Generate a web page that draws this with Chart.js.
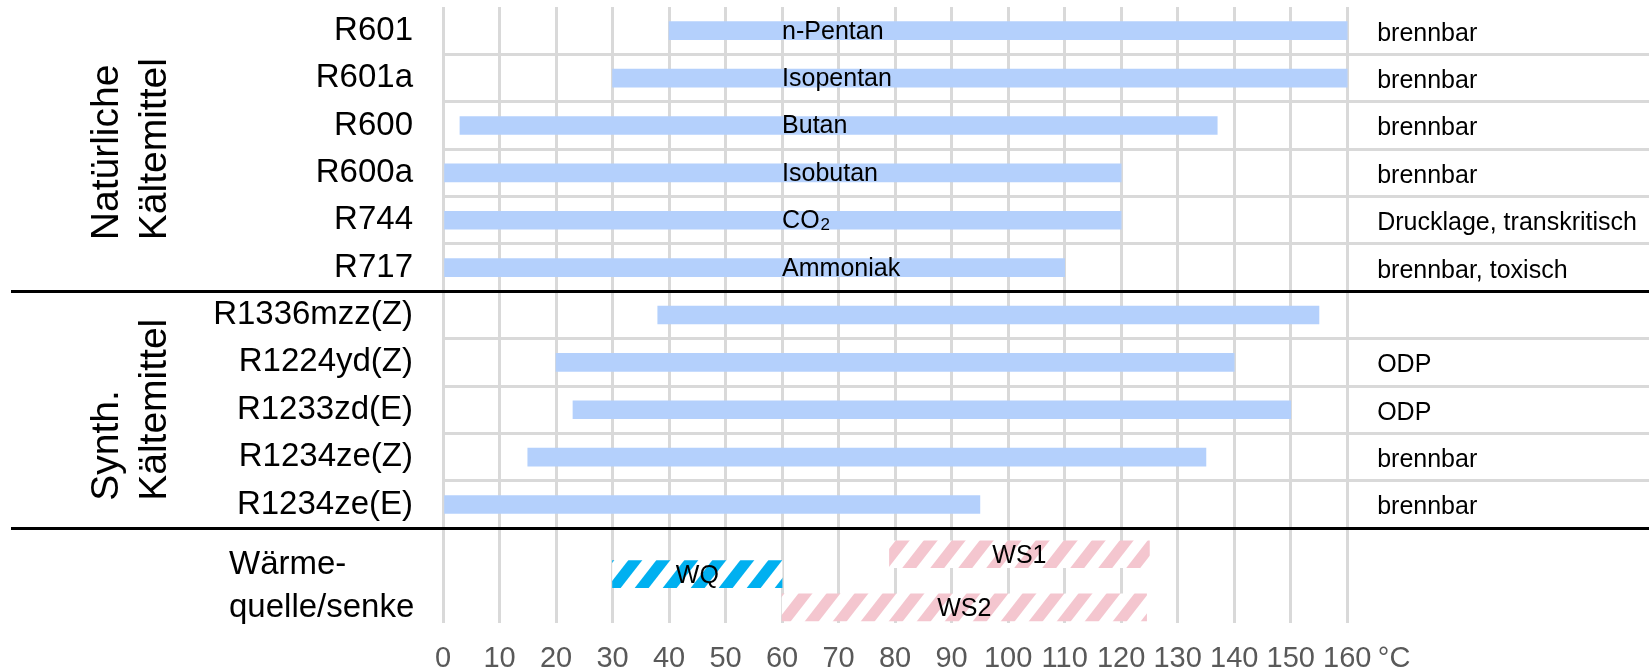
<!DOCTYPE html>
<html>
<head>
<meta charset="utf-8">
<script src="https://cdn.jsdelivr.net/npm/chart.js@4.4.1/dist/chart.umd.min.js"></script>
<style>
  html, body { margin: 0; padding: 0; background: #fff; }
</style>
</head>
<body>
<canvas id="chartjs-0" width="1649" height="672"></canvas>
<script>
"use strict"

// Kältemittel, von oben nach unten
var refrigerants = ["R601", "R601a", "R600", "R600a", "R744", "R717",
  "R1336mzz(Z)", "R1224yd(Z)", "R1233zd(E)", "R1234ze(Z)", "R1234ze(E)"];
var tempFrom = [40, 30, 3, 0, 0, 0, 38, 20, 23, 15, 0];
var tempTo = [160, 160, 137, 120, 120, 110, 155, 140, 150, 135, 95];
var substanceNames = ["n-Pentan", "Isopentan", "Butan", "Isobutan", "CO₂", "Ammoniak", "", "", "", "", ""];
var remarks = ["brennbar", "brennbar", "brennbar", "brennbar", "Drucklage, transkritisch",
  "brennbar, toxisch", "", "ODP", "ODP", "brennbar", "brennbar"];

// Wärmequelle / Wärmesenken (Zeile = Lage im unteren Block)
var sourceNames = ["WQ"];
var sourceRow = [11.47];
var sourceFrom = [30];
var sourceTo = [60];
var sinkNames = ["WS1", "WS2"];
var sinkRow = [11.05, 12.17];
var sinkFrom = [79, 60];
var sinkTo = [125, 124.5];

var xTicks = [0, 10, 20, 30, 40, 50, 60, 70, 80, 90, 100, 110, 120, 130, 140, 150, 160];
var unitLabel = "°C";
var groupNames = [["Natürliche", "Kältemittel"], ["Synth.", "Kältemittel"]];
var groupRows = [[0, 5], [6, 10]];
var heatLabel = ["Wärme-", "quelle/senke"];

var fam = '"Liberation Sans", Arial, sans-serif';
Chart.defaults.font.family = fam;

function hatch(color) {
    var c = document.createElement("canvas");
    c.width = 28; c.height = 36;
    var g = c.getContext("2d");
    g.fillStyle = "#fff";
    g.fillRect(0, 0, 28, 36);
    g.fillStyle = color;
    [-28, 0].forEach(function (dx) {
        g.beginPath();
        g.moveTo(dx, 36); g.lineTo(dx + 14, 36);
        g.lineTo(dx + 42, 0); g.lineTo(dx + 28, 0);
        g.closePath();
        g.fill();
    });
    return g.createPattern(c, "repeat");
}

var refData = refrigerants.map(function (r, i) { return { y: i, x: [tempFrom[i], tempTo[i]] }; });
var srcData = sourceNames.map(function (n, i) { return { y: sourceRow[i], x: [sourceFrom[i], sourceTo[i]] }; });
var sinkData = sinkNames.map(function (n, i) { return { y: sinkRow[i], x: [sinkFrom[i], sinkTo[i]] }; });

var extras = {
    id: "extras",
    afterDatasetsDraw: function (chart) {
        var ctx = chart.ctx;
        var xs = chart.scales.x, ys = chart.scales.y;
        var i, j;
        ctx.save();
        ctx.fillStyle = "#000";

        // Namen in den Balken
        ctx.textAlign = "left";
        ctx.textBaseline = "middle";
        for (i = 0; i < substanceNames.length; i++) {
            var name = substanceNames[i];
            if (!name) continue;
            var x = xs.getPixelForValue(60), y = ys.getPixelForValue(i) + 1;
            ctx.font = "25px " + fam;
            if (name.slice(-1) === "₂") {
                var base = name.slice(0, -1);
                ctx.fillText(base, x, y);
                var w = ctx.measureText(base).width;
                ctx.font = "17px " + fam;
                ctx.fillText("2", x + w + 1, y + 4);
            } else {
                ctx.fillText(name, x, y);
            }
        }

        // WQ / WS Beschriftung
        ctx.font = "25px " + fam;
        ctx.textAlign = "center";
        for (i = 0; i < sourceNames.length; i++) {
            ctx.fillText(sourceNames[i], xs.getPixelForValue((sourceFrom[i] + sourceTo[i]) / 2), ys.getPixelForValue(sourceRow[i]) + 2);
        }
        for (i = 0; i < sinkNames.length; i++) {
            ctx.fillText(sinkNames[i], xs.getPixelForValue((sinkFrom[i] + sinkTo[i]) / 2), ys.getPixelForValue(sinkRow[i]) + 2);
        }

        // Bemerkungen rechts
        ctx.textAlign = "left";
        for (i = 0; i < remarks.length; i++) {
            if (!remarks[i]) continue;
            ctx.fillText(remarks[i], xs.getPixelForValue(165.3), ys.getPixelForValue(i) + 3);
        }

        // Trennlinien
        ctx.strokeStyle = "#000";
        ctx.lineWidth = 3;
        [5.5, 10.5].forEach(function (v) {
            var yy = Math.round(ys.getPixelForValue(v)) + 0.5;
            ctx.beginPath();
            ctx.moveTo(11, yy);
            ctx.lineTo(chart.width, yy);
            ctx.stroke();
        });

        // Gruppenbeschriftung, gedreht
        ctx.font = "39px " + fam;
        ctx.textBaseline = "alphabetic";
        var baseX = [118, 166];
        for (i = 0; i < groupNames.length; i++) {
            var mid = ys.getPixelForValue((groupRows[i][0] + groupRows[i][1]) / 2);
            var maxW = 0;
            for (j = 0; j < groupNames[i].length; j++) maxW = Math.max(maxW, ctx.measureText(groupNames[i][j]).width);
            for (j = 0; j < groupNames[i].length; j++) {
                ctx.save();
                ctx.translate(baseX[j], mid + maxW / 2);
                ctx.rotate(-Math.PI / 2);
                ctx.fillText(groupNames[i][j], 0, 0);
                ctx.restore();
            }
        }

        // Wärmequelle/senke
        ctx.font = "33px " + fam;
        ctx.textBaseline = "middle";
        var hm = ys.getPixelForValue(11.73);
        ctx.fillText(heatLabel[0], 229, hm - 21.5);
        ctx.fillText(heatLabel[1], 229, hm + 21.5);

        ctx.restore();
    }
};

var ctx0 = document.getElementById("chartjs-0");
var myChart = new Chart(ctx0, {
    type: "bar",
    data: {
        datasets: [
            { label: "Kältemittel", data: refData, backgroundColor: "#b4d0fc", barThickness: 18, grouped: false },
            { label: "Wärmequelle", data: srcData, backgroundColor: hatch("#00b0f0"), barThickness: 27, grouped: false },
            { label: "Wärmesenke", data: sinkData, backgroundColor: hatch("#f4c6cf"), barThickness: 27, grouped: false }
        ]
    },
    options: {
        indexAxis: "y",
        responsive: false,
        animation: false,
        layout: { padding: { top: 7, left: 0, right: 0, bottom: 0 } },
        plugins: { legend: { display: false }, tooltip: { enabled: false } },
        scales: {
            x: {
                type: "linear", min: 0, max: 213.4, offset: false,
                afterBuildTicks: function (scale) {
                    scale.ticks = xTicks.map(function (v) { return { value: v }; }).concat([{ value: 168.3 }]);
                },
                afterFit: function (scale) {
                    scale.height = 49;
                    scale.paddingLeft = 0; scale.paddingRight = 0;
                },
                ticks: {
                    autoSkip: false, maxRotation: 0, padding: 19, color: "#595959", font: { size: 29 },
                    callback: function (v) { return v <= 160 ? String(v) : unitLabel; }
                },
                grid: {
                    offset: false, drawTicks: false, lineWidth: 3,
                    color: function (c) { return c.tick && c.tick.value <= 160 ? "#d9d9d9" : "rgba(0,0,0,0)"; }
                },
                border: { display: false }
            },
            y: {
                type: "linear", reverse: true, min: -0.5, max: 12.5, offset: false,
                afterBuildTicks: function (scale) {
                    var t = [];
                    for (var i = 0; i < refrigerants.length; i++) {
                        t.push({ value: i });
                        if (i < refrigerants.length - 1 && i !== 5) t.push({ value: i + 0.5 });
                    }
                    scale.ticks = t;
                },
                afterFit: function (scale) {
                    scale.width = 443;
                    scale.paddingTop = 0; scale.paddingBottom = 0;
                },
                ticks: {
                    autoSkip: false, padding: 30, color: "#000", font: { size: 33 },
                    callback: function (v) { return Number.isInteger(v) ? refrigerants[v] : ""; }
                },
                grid: {
                    offset: false, drawTicks: false, lineWidth: 3,
                    color: function (c) { return c.tick && !Number.isInteger(c.tick.value) ? "#d9d9d9" : "rgba(0,0,0,0)"; }
                },
                border: { display: false }
            }
        }
    },
    plugins: [extras]
});
</script>
</body>
</html>
